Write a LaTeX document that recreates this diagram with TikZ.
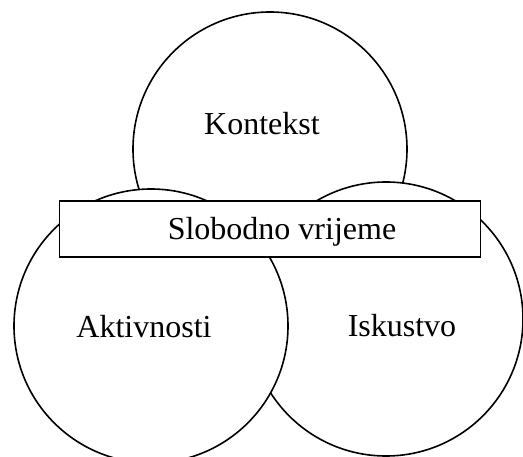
\documentclass[tikz,border=0pt]{standalone}
\usepackage{fontspec}
\setmainfont{Liberation Serif}
\usetikzlibrary{positioning}
\tikzset{
  sphere/.style={circle,draw=black,fill=white,line width=1.6pt,
                 minimum size=274pt,inner sep=0pt},
  band/.style={rectangle,draw=black,fill=white,line width=1.6pt,
               minimum width=421pt,minimum height=56pt,inner sep=0pt},
  word/.style={font=\fontsize{32}{38}\selectfont},
}
\begin{document}
\begin{tikzpicture}[x=1pt,y=1pt]
  \useasboundingbox (0,0) rectangle (523,-457);
  % circles
  \node[sphere] (ctx) at (270,-149) {};
  \node[sphere] (exp) at (386,-319) {};
  \node[sphere] (act) at (151,-326) {};

  % labels
  \node[word] (ctxl) at ([xshift=-8pt,yshift=25pt]ctx.center) {Kontekst};
  \node[word] (expl) at ([xshift=16pt,yshift=-7pt]exp.center) {Iskustvo};
  \node[word] (actl) at ([xshift=-7pt,yshift=-1pt]act.center) {Aktivnosti};

  % free time
  \node[band] (free) at (270,-229) {};
  \node[word] (freel) at ([xshift=12pt,yshift=-3pt]free.center) {Slobodno vrijeme};
\end{tikzpicture}
\end{document}
